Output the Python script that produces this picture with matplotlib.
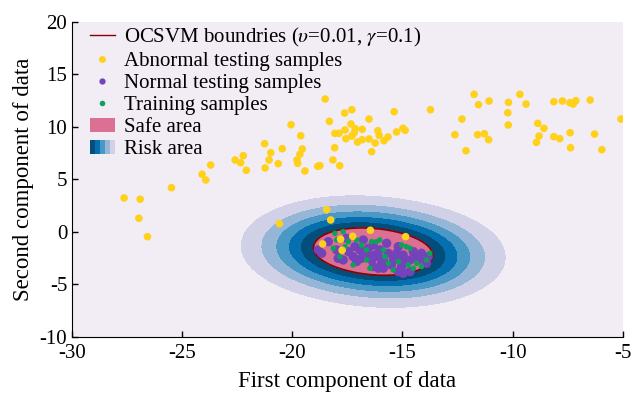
import numpy as np
import matplotlib
matplotlib.use('Agg')
import matplotlib.pyplot as plt
from matplotlib.lines import Line2D
from matplotlib.patches import Patch, Rectangle
from matplotlib.legend_handler import HandlerBase

plt.rcParams.update({'font.family': 'Liberation Serif', 'mathtext.fontset': 'stix',
                     'axes.unicode_minus': False,
                     'xtick.direction': 'in', 'ytick.direction': 'in',
                     'axes.spines.right': False, 'axes.spines.top': False})

# ── data ───────────────────────────────────────────────────────────────────
train_x = [-18.07, -17.69, -17.99, -18.14, -17.61, -17.08, -16.86, -16.63, -16.40, -16.18,
           -15.80, -15.65, -15.19, -14.82, -14.66, -14.51, -14.36, -14.14, -13.91, -13.76,
           -17.84, -17.24, -16.48, -15.42, -16.63, -16.03, -15.04, -17.46, -15.87, -14.74]
train_y = [-0.16, 0.00, -0.79, -1.58, -1.43, -0.79, -1.27, -1.74, -0.95, -0.95,
           -2.38, -3.01, -2.85, -1.43, -1.58, -3.49, -3.01, -3.33, -2.70, -2.06,
           -2.38, -3.17, -3.49, -3.65, -2.70, -0.79, -1.27, -0.95, -1.74, -3.17]

normal_x = [-18.82, -18.67, -18.37, -17.99, -17.92, -17.69, -17.54, -17.46, -17.24, -17.16,
            -17.08, -16.93, -16.86, -16.78, -16.63, -16.55, -16.40, -16.33, -16.25, -16.10,
            -16.03, -15.95, -15.87, -15.72, -15.65, -15.50, -15.42, -15.27, -15.19, -15.12,
            -15.04, -14.97, -14.82, -14.66, -14.51, -14.44, -14.29, -14.14, -13.98, -13.91,
            -13.83, -15.19, -14.97, -14.66, -16.10, -15.87, -16.33]
normal_y = [-1.74, -2.06, -0.95, -1.74, -2.54, -2.70, -0.63, -1.90, -2.38, -1.43,
            -2.85, -1.74, -2.54, -0.79, -2.06, -1.58, -2.70, -1.27, -2.22, -2.38,
            -1.74, -3.01, -2.70, -1.11, -2.06, -3.17, -2.70, -2.06, -1.43, -2.70,
            -3.33, -2.22, -2.85, -2.70, -1.90, -2.38, -2.70, -2.06, -2.54, -3.01,
            -2.38, -3.81, -3.97, -3.81, -3.49, -3.49, -3.33]

abnormal_x = [-27.64, -26.91, -26.97, -26.58, -25.49, -24.10, -23.93, -23.71, -22.60, -22.23,
              -22.35, -22.09, -21.24, -21.06, -20.98, -20.64, -19.79, -19.76, -19.66, -19.43,
              -20.59, -18.51, -20.06, -19.62, -21.26, -20.46, -19.55, -18.85, -18.75, -18.16,
              -17.85, -18.08, -18.32, -17.63, -17.30, -17.34, -17.61, -18.07, -17.89, -17.15,
              -17.19, -17.57, -17.30, -16.83, -17.04, -16.83, -16.52, -16.52, -16.40, -16.24,
              -16.12, -16.06, -15.84, -15.66, -15.38, -15.27, -14.98, -14.88, -13.73, -11.75,
              -11.55, -11.07, -12.30, -12.62, -12.12, -11.59, -11.28, -11.09, -10.19, -10.22,
              -10.20, -9.67, -9.39, -8.86, -8.58, -8.80, -8.92, -8.13, -7.74, -7.40,
              -7.25, -7.13, -8.13, -7.86, -7.39, -7.37, -6.48, -6.28, -5.95, -5.08,
              -18.44, -18.26, -16.46, -14.86, -18.63, -17.81, -17.26, -17.74]
abnormal_y = [3.21, 3.09, 1.28, -0.48, 4.19, 5.47, 4.92, 6.35, 6.83, 7.24,
              6.57, 5.85, 6.07, 6.83, 7.52, 6.48, 6.83, 6.51, 7.37, 5.78,
              0.76, 12.64, 10.19, 9.14, 8.38, 7.90, 7.88, 6.23, 6.29, 6.83,
              6.29, 8.00, 10.51, 11.30, 11.62, 10.26, 9.69, 9.37, 9.37, 9.81,
              9.43, 8.86, 9.11, 9.75, 8.54, 8.76, 10.73, 8.83, 7.62, 8.45,
              9.62, 9.18, 8.67, 9.02, 11.43, 9.50, 9.85, 9.66, 11.62, 13.09,
              12.10, 12.45, 10.73, 9.24, 7.71, 9.24, 9.33, 8.76, 12.32, 11.33,
              10.16, 13.09, 12.16, 10.32, 9.85, 9.11, 8.51, 12.38, 12.45, 12.29,
              12.16, 12.48, 9.05, 8.86, 9.43, 8.00, 12.54, 9.30, 7.81, 10.73,
              2.10, 1.11, 0.13, -0.48, -1.17, -0.72, -0.44, -1.77]

# OCSVM (nu=0.01, gamma=0.1): estimated support vectors and one point on the boundary
gamma = 0.1
support_x = [-13.97, -14.30, -15.82, -17.64, -18.69, -18.36, -16.84, -15.02]
support_y = [-2.86, -1.69, -0.65, -0.34, -0.94, -2.11, -3.15, -3.46]
boundary_pt = (-19.02, -1.27)

# ── decision function (RBF kernel sum minus offset) ─────────────────────────
sv = np.column_stack([support_x, support_y])
xx, yy = np.meshgrid(np.linspace(-30, -5, 500), np.linspace(-10, 20, 500))
grid = np.column_stack([xx.ravel(), yy.ravel()])

def score(p):
    d2 = ((p[:, None, :] - sv[None, :, :]) ** 2).sum(-1)
    return np.exp(-gamma * d2).sum(1)

rho = score(np.array([boundary_pt]))[0]
Z = (score(grid) - rho).reshape(xx.shape)

fig = plt.figure(figsize=(6.44, 3.96), dpi=100)
ax = fig.add_axes([0.112, 0.150, 0.855, 0.795])

ax.contourf(xx, yy, Z, levels=np.linspace(Z.min(), 0, 7), cmap=plt.cm.PuBu)
ax.contour(xx, yy, Z, levels=[0], linewidths=1.2, colors='darkred')
ax.contourf(xx, yy, Z, levels=[0, Z.max()], colors='palevioletred')

ax.scatter(normal_x, normal_y, s=45, c='#7443b9', edgecolors='none', zorder=3)
ax.scatter(train_x, train_y, s=16, c='#0ba35a', edgecolors='none', zorder=4)
ax.scatter(abnormal_x, abnormal_y, s=30, c='#ffd11a', edgecolors='none', zorder=5)

ax.set_xlim(-30, -5); ax.set_ylim(-10, 20)
ax.set_xticks([-30, -25, -20, -15, -10, -5])
ax.set_yticks([-10, -5, 0, 5, 10, 15, 20])
ax.tick_params(labelsize=15, length=4, width=1)
ax.tick_params(axis='x', pad=5)
ax.set_xlabel('First component of data', fontsize=16.5, labelpad=6)
ax.set_ylabel('Second component of data', fontsize=16.5, labelpad=4)


class RiskHandler(HandlerBase):
    def create_artists(self, legend, orig_handle, xdescent, ydescent, width, height, fontsize, trans):
        cols = [plt.cm.PuBu(v) for v in (11/12, 9/12, 7/12, 5/12, 3/12)]
        w = width / len(cols)
        return [Rectangle((-xdescent + i * w, -ydescent), w, height, facecolor=c,
                          edgecolor='none', transform=trans) for i, c in enumerate(cols)]


risk = Patch(label='Risk area')
handles = [Line2D([], [], color='darkred', lw=1, label=r'OCSVM boundries ($\upsilon$=0.01, $\gamma$=0.1)'),
           Line2D([], [], ls='none', marker='o', ms=5, mfc='#ffd11a', mec='none', label='Abnormal testing samples'),
           Line2D([], [], ls='none', marker='o', ms=4.5, mfc='#7443b9', mec='none', label='Normal testing samples'),
           Line2D([], [], ls='none', marker='o', ms=4, mfc='#0ba35a', mec='none', label='Training samples'),
           Patch(facecolor='palevioletred', label='Safe area'),
           risk]
ax.legend(handles=handles, handler_map={risk: RiskHandler()}, loc='upper left',
          bbox_to_anchor=(0.03, 0.99), frameon=False, fontsize=15, handlelength=1.2,
          labelspacing=0.12, borderaxespad=0, handletextpad=0.45, borderpad=0.05)

fig.savefig('out.png', dpi=100)
